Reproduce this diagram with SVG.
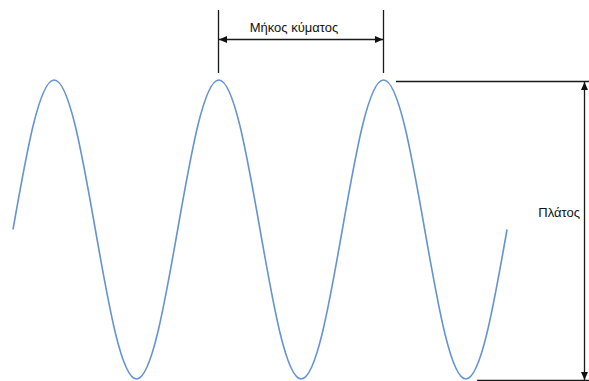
<svg xmlns="http://www.w3.org/2000/svg" width="589" height="381" viewBox="0 0 589 381">
<style>
.dim{stroke:#1a1a1a;stroke-width:1.3;fill:none}
.lbl{font-family:"Liberation Sans","Noto Sans",sans-serif;font-size:13px;fill:#111}
.wave{stroke:#6593d3;stroke-width:1.6;fill:none}
</style>
<defs>
<marker id="ah" viewBox="0 0 8 7" refX="8" refY="3.5" markerWidth="8" markerHeight="7" markerUnits="userSpaceOnUse" orient="auto-start-reverse">
<path d="M0,0 L8,3.5 L0,7 Z" fill="#111"/>
</marker>
</defs>
<rect width="589" height="381" fill="#fff"/>
<g id="wave">
<path class="wave" d="M13,229.5 c13.43,-76.59 26.27,-149.5 41.17,-149.5 s27.74,72.91 41.17,149.5 s26.27,149.5 41.17,149.5 s27.74,-72.91 41.17,-149.5 s26.27,-149.5 41.17,-149.5 s27.74,72.91 41.17,149.5 s26.27,149.5 41.17,149.5 s27.74,-72.91 41.17,-149.5 s26.27,-149.5 41.17,-149.5 s27.74,72.91 41.17,149.5 s26.27,149.5 41.17,149.5 s27.74,-72.91 41.17,-149.5"/>
</g>
<g id="connectors">
<line class="dim" x1="218.5" y1="10" x2="218.5" y2="73"/>
<line class="dim" x1="383.5" y1="10" x2="383.5" y2="73"/>
<line class="dim" x1="219" y1="39.5" x2="383" y2="39.5" marker-start="url(#ah)" marker-end="url(#ah)"/>
<line class="dim" x1="396" y1="81.5" x2="589" y2="81.5"/>
<line class="dim" x1="477" y1="380.5" x2="589" y2="380.5"/>
<line class="dim" x1="584.5" y1="82" x2="584.5" y2="380" marker-start="url(#ah)" marker-end="url(#ah)"/>
</g>
<g id="label-wavelength">
<text class="lbl" x="294" y="32" text-anchor="middle">Μήκος κύματος</text>
</g>
<g id="label-amplitude">
<text class="lbl" x="580" y="217" text-anchor="end">Πλάτος</text>
</g>
</svg>
